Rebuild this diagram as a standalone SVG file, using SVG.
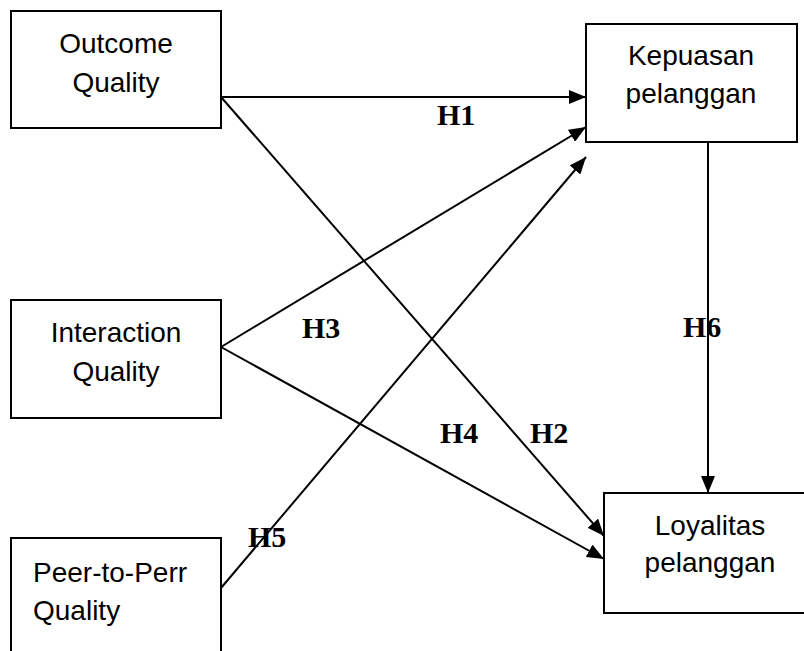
<svg xmlns="http://www.w3.org/2000/svg" width="804" height="651" viewBox="0 0 804 651">
<defs>
<style>
.box{fill:#fff;stroke:#000;stroke-width:2}
.t{font-family:"Liberation Sans",Arial,sans-serif;font-size:28px;fill:#000}
.h{font-family:"Liberation Serif","Times New Roman",serif;font-size:30px;font-weight:bold;fill:#000}
.c{stroke:#000;stroke-width:2;fill:none}
</style>
<marker id="arr" markerUnits="userSpaceOnUse" markerWidth="18" markerHeight="14" refX="17" refY="7" orient="auto">
<path d="M0,0 L17,7 L0,14 z" fill="#000"/>
</marker>
</defs>
<rect width="804" height="651" fill="#fff"/>
<g id="connectors">
<line class="c" x1="221" y1="97" x2="586" y2="97" marker-end="url(#arr)"/>
<line class="c" x1="221" y1="97" x2="604" y2="536" marker-end="url(#arr)"/>
<line class="c" x1="221" y1="347" x2="586" y2="127" marker-end="url(#arr)"/>
<line class="c" x1="221" y1="347" x2="604" y2="559" marker-end="url(#arr)"/>
<line class="c" x1="221" y1="588" x2="586" y2="157" marker-end="url(#arr)"/>
<line class="c" x1="708" y1="142" x2="708" y2="493" marker-end="url(#arr)"/>
</g>
<g id="outcome">
<rect class="box" x="11" y="11" width="210" height="117"/>
<text class="t" x="116" y="53" text-anchor="middle">Outcome</text>
<text class="t" x="116" y="92" text-anchor="middle">Quality</text>
</g>
<g id="interaction">
<rect class="box" x="11" y="300" width="210" height="118"/>
<text class="t" x="116" y="342" text-anchor="middle">Interaction</text>
<text class="t" x="116" y="381" text-anchor="middle">Quality</text>
</g>
<g id="peer">
<rect class="box" x="11" y="538" width="210" height="130"/>
<text class="t" x="33" y="582">Peer-to-Perr</text>
<text class="t" x="33" y="620">Quality</text>
</g>
<g id="kepuasan">
<rect class="box" x="586" y="24" width="211" height="118"/>
<text class="t" x="691" y="65" text-anchor="middle">Kepuasan</text>
<text class="t" x="691" y="103" text-anchor="middle">pelanggan</text>
</g>
<g id="loyalitas">
<rect class="box" x="604" y="493" width="212" height="120"/>
<text class="t" x="710" y="535" text-anchor="middle">Loyalitas</text>
<text class="t" x="710" y="572" text-anchor="middle">pelanggan</text>
</g>
<g id="labels">
<text class="h" x="437" y="125">H1</text>
<text class="h" x="302" y="338">H3</text>
<text class="h" x="683" y="337">H6</text>
<text class="h" x="440" y="443">H4</text>
<text class="h" x="530" y="443">H2</text>
<text class="h" x="248" y="547">H5</text>
</g>
</svg>
